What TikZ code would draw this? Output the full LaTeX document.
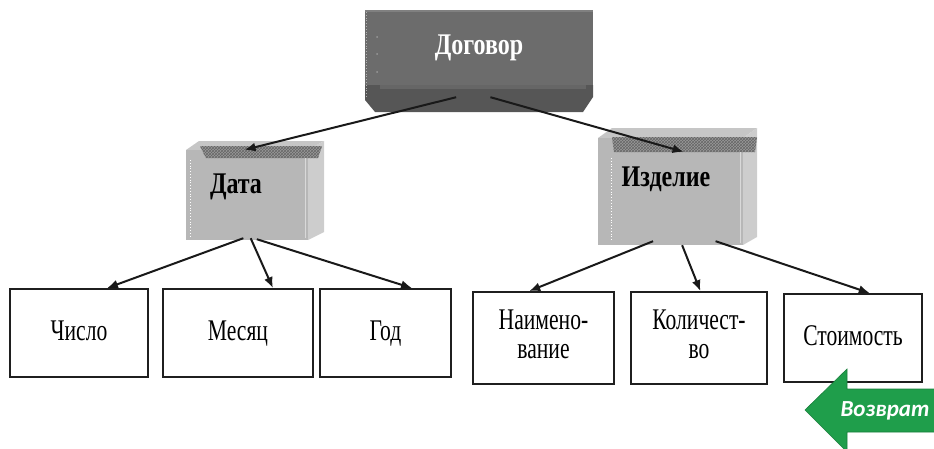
\documentclass[tikz,border=0pt]{standalone}
\usepackage{fontspec}
\usepackage{graphicx}
\setmainfont{Liberation Serif}
\newfontfamily\btnfont{Carlito}
\usetikzlibrary{arrows.meta,patterns,calc}

% condensed serif lettering
\newcommand\narrowtxt[1]{\scalebox{0.72}[1]{#1}}
\newcommand\boldtxt[1]{\scalebox{0.8}[1]{\bfseries #1}}
\newcommand\twolines[2]{\raisebox{-4pt}{\begin{tabular}{@{}c@{}}\narrowtxt{#1}\\[-2pt]\narrowtxt{#2}\end{tabular}}}

\definecolor{darkface}{HTML}{6C6C6C}
\definecolor{darkbevel}{HTML}{565656}
\definecolor{darkedge}{HTML}{808080}
\definecolor{lightface}{HTML}{B7B7B7}
\definecolor{lightside}{HTML}{CDCDCD}
\definecolor{lighttop}{HTML}{C6C6C6}
\definecolor{hatchgray}{HTML}{9A9A9A}
\definecolor{backgreen}{HTML}{1F9E4B}

\begin{document}
\begin{tikzpicture}[x=1pt,y=-1pt,
  leafbox/.style={draw=black!88, line width=1.8pt, fill=white, inner sep=0pt,
    font=\fontsize{30}{31}\selectfont},
  leafone/.style={leafbox, text height=21pt, text depth=6pt},
  leaftwo/.style={leafbox},
  frontface/.style={inner sep=0pt, draw=none},
  headtext/.style={inner sep=0pt, font=\fontsize{30}{31}\selectfont},
  link/.style={draw=black!90, line width=2pt, -{Latex[length=11pt,width=9pt]}},
  hatchband/.style={fill=hatchgray, postaction={pattern=crosshatch, pattern color=black!60}},
]
\useasboundingbox (0,0) rectangle (934,448);

% ---- root box "Договор" ----
\fill[darkbevel] (365,85) -- (593,85) -- (593,97) -- (583,112) -- (375,112) -- (365,100) -- cycle;
\fill[black!60] (380,85) rectangle (586,89);
\node[frontface, fill=darkface, minimum width=228pt, minimum height=75pt,
      text=white, headtext] (dog) at (479,47.5) {\boldtxt{Договор}};
\fill[darkedge] (365,10) rectangle (593,12);
\draw[white!70!black, line width=0.8pt, dotted] (366,12) -- (366,98);
\foreach \yy in {37,54,72} \fill[white!60!black] (377,\yy) circle (1pt);

% ---- box "Дата" ----
\fill[lighttop] (186,150) -- (199,141) -- (324,141) -- (308,150) -- cycle;
\fill[lightside] (308,150) -- (324,141) -- (324,232) -- (308,240) -- cycle;
\node[frontface, fill=lightface, minimum width=122pt, minimum height=90pt] (data) at (247,195) {};
\path[hatchband] (200,146) -- (322,146) -- (318,158) -- (206,158) -- cycle;
\draw[white, line width=0.8pt, dotted] (190,160) -- (190,236);
\draw[white!85!black, line width=0.8pt] (305,158) -- (305,238);
\node[headtext] (datatext) at (236,187) {\boldtxt{Дата}};

% ---- box "Изделие" ----
\fill[lighttop] (598,138) -- (612,128) -- (757,128) -- (743,138) -- cycle;
\fill[lightside] (743,138) -- (757,128) -- (757,237) -- (743,245) -- cycle;
\node[frontface, fill=lightface, minimum width=145pt, minimum height=107pt] (izd) at (670.5,191.5) {};
\path[hatchband] (612,137) -- (757,137) -- (755,152) -- (614,152) -- cycle;
\draw[white, line width=0.8pt, dotted] (611,158) -- (611,240);
\draw[white!85!black, line width=0.8pt] (740,152) -- (740,243);
\node[headtext] (izdtext) at (666,179) {\boldtxt{Изделие}};

% ---- leaf boxes ----
\node[leafone, minimum width=138pt, minimum height=88pt] (chislo) at (79,333) {\narrowtxt{Число}};
\node[leafone, minimum width=150pt, minimum height=88pt] (mesyac) at (238,333) {\narrowtxt{Месяц}};
\node[leafone, minimum width=131pt, minimum height=88pt] (god) at (385.5,333) {\narrowtxt{Год}};
\node[leaftwo, minimum width=141pt, minimum height=92pt] (naim) at (543.5,338) {\twolines{Наимено-}{вание}};
\node[leaftwo, minimum width=136pt, minimum height=92pt] (kol) at (699,338) {\twolines{Количест-}{во}};
\node[leafone, minimum width=138pt, minimum height=88pt] (stoim) at (853,338) {\narrowtxt{Стоимость}};

% ---- connectors ----
\draw[link] ($(dog.south west)!0.40!(dog.south east)+(0,12)$) -- ($(data.north west)!0.48!(data.north east)$);
\draw[link] ($(dog.south west)!0.55!(dog.south east)+(0,12)$) -- ($(izd.north west)!0.59!(izd.north east)+(0,14)$);

\draw[link] ($(data.south west)!0.47!(data.south east)+(0,-2)$) -- ($(chislo.north west)!0.70!(chislo.north east)$);
\draw[link] ($(data.south west)!0.53!(data.south east)+(0,-2)$) -- ($(mesyac.north west)!0.73!(mesyac.north east)$);
\draw[link] ($(data.south west)!0.58!(data.south east)+(0,-1)$) -- ($(god.north west)!0.70!(god.north east)$);

\draw[link] ($(izd.south west)!0.38!(izd.south east)+(0,-4)$) -- ($(naim.north west)!0.40!(naim.north east)$);
\draw[link] ($(izd.south west)!0.58!(izd.south east)$) -- ($(kol.north west)!0.51!(kol.north east)$);
\draw[link] ($(izd.south west)!0.81!(izd.south east)+(0,-4)$) -- ($(stoim.north west)!0.62!(stoim.north east)$);

% ---- back button ----
\path[fill=backgreen, draw=backgreen!80!black, line width=0.6pt]
  (805,410) -- (847,369) -- (847,389) -- (936,389) -- (936,432) -- (847,432) -- (847,452) -- cycle;
\node[inner sep=0pt, text=white, font=\btnfont\bfseries\itshape\fontsize{23}{26}\selectfont] (back) at (885,411) {Возврат};
\end{tikzpicture}
\end{document}
